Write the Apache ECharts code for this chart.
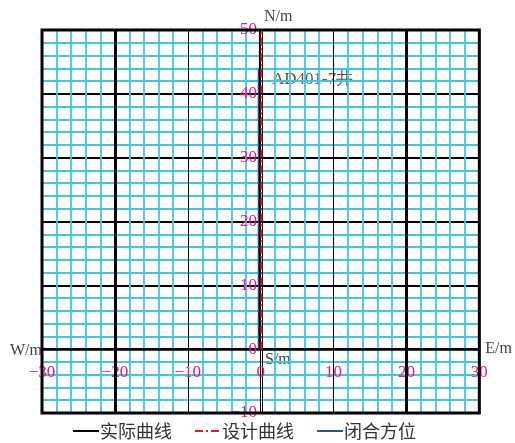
<!DOCTYPE html>
<html>
<head>
<meta charset="utf-8">
<script src="https://cdn.jsdelivr.net/npm/echarts@6/dist/echarts.min.js"></script>
<style>
  html, body { margin: 0; padding: 0; background: #fff; }
  #chart { width: 515px; height: 443px; }
</style>
</head>
<body>
<div id="chart"></div>
<script>
  // 井眼轨迹水平投影 (东西 / 南北, m)
  let legendNames = ['实际曲线', '设计曲线', '闭合方位']
  let actualE = [-0.1, -0.1, -0.1, -0.1, -0.1, -0.1]
  let actualN = [0, 10, 20, 30, 40, 50]
  let designE = [0.1, 0.1, 0.1, 0.1, 0.1, 0.1]
  let designN = [0, 10, 20, 30, 40, 50]
  let closeE = [-0.2, -0.2]
  let closeN = [0, 44]
  let wellName = 'AD401-7井'

  const pink = '#F0148C'
  const cyan = '#40C4EC'
  const serif = '"Liberation Serif", "DejaVu Serif", serif'

  // 绘图区
  const gridLeft = 42, gridRight = 33, gridTop = 30, gridBottom = 30
  const plotW = 515 - gridLeft - gridRight
  const plotH = 443 - gridTop - gridBottom

  function pairs(xs, ys) {
    return xs.map((x, i) => [x, ys[i]])
  }
  // 负号用长减号
  function minusFmt(v) {
    return String(v).replace('-', '\u2212')
  }

  let chart = echarts.init(document.getElementById('chart'))
  chart.setOption({
    animation: false,
    grid: {
      left: gridLeft,
      right: gridRight,
      top: gridTop,
      bottom: gridBottom,
      show: true,
      borderColor: '#000',
      borderWidth: 3,
      z: 10
    },
    legend: {
      bottom: -2,
      left: 67,
      itemWidth: 26,
      itemHeight: 12,
      itemGap: 22,
      itemStyle: { opacity: 0 },
      textStyle: {
        color: '#333',
        fontSize: 18,
        fontFamily: '"Noto Sans CJK SC"',
        padding: [0, 0, 0, -4]
      },
      data: legendNames
    },
    xAxis: {
      type: 'value',
      min: -30,
      max: 30,
      interval: 10,
      position: 'bottom',
      offset: -plotH * 10 / 60,
      name: 'E/m',
      nameLocation: 'end',
      nameGap: 6,
      nameTextStyle: { color: '#444', fontSize: 16, fontFamily: serif },
      axisLine: { show: true, onZero: false, lineStyle: { color: '#000', width: 2.5 } },
      axisTick: { show: false },
      axisLabel: { color: pink, fontSize: 17, fontFamily: serif, margin: 15, formatter: minusFmt },
      splitLine: { show: true, lineStyle: { color: '#000', width: 1 } },
      minorTick: { show: false, splitNumber: 5 },
      minorSplitLine: { show: true, lineStyle: { color: cyan, width: 1.8 } }
    },
    yAxis: {
      type: 'value',
      min: -10,
      max: 50,
      interval: 10,
      position: 'left',
      offset: -plotW * 30 / 60,
      name: 'N/m',
      nameLocation: 'end',
      nameGap: 5,
      nameTextStyle: { color: '#444', fontSize: 16, fontFamily: serif, align: 'left', padding: [0, 0, 0, 2] },
      axisLine: { show: true, onZero: false, lineStyle: { color: '#000', width: 1 } },
      axisTick: { show: false },
      axisLabel: { color: pink, fontSize: 17, fontFamily: serif, margin: 5, formatter: minusFmt },
      splitLine: { show: true, lineStyle: { color: '#000', width: 2 } },
      minorTick: { show: false, splitNumber: 5 },
      minorSplitLine: { show: true, lineStyle: { color: cyan, width: 1.8 } }
    },
    graphic: [
      {
        type: 'text',
        left: 10,
        top: 343,
        style: { text: 'W/m', fill: '#444', font: '16px ' + serif }
      },
      {
        type: 'text',
        left: 265,
        top: 352,
        style: { text: 'S/m', fill: '#444', font: '16px ' + serif }
      },
      {
        type: 'text',
        left: 272,
        top: 71,
        style: { text: wellName, fill: '#555', font: '17px ' + serif }
      }
    ],
    series: [
      {
        // 粗分隔线 ±20
        type: 'line',
        data: [],
        silent: true,
        markLine: {
          silent: true,
          symbol: 'none',
          label: { show: false },
          lineStyle: { color: '#000', width: 3, type: 'solid' },
          data: [{ xAxis: -20 }, { xAxis: 20 }]
        }
      },
      {
        name: legendNames[2],
        type: 'line',
        showSymbol: false,
        symbol: 'none',
        z: 3,
        lineStyle: { color: '#2456A4', width: 3 },
        itemStyle: { color: '#2456A4' },
        data: pairs(closeE, closeN)
      },
      {
        name: legendNames[0],
        type: 'line',
        showSymbol: false,
        symbol: 'none',
        z: 4,
        lineStyle: { color: '#000', width: 2 },
        itemStyle: { color: '#000' },
        data: pairs(actualE, actualN)
      },
      {
        name: legendNames[1],
        type: 'line',
        showSymbol: false,
        symbol: 'none',
        z: 5,
        lineStyle: { color: '#F01818', width: 2, type: [8, 3, 2, 3] },
        itemStyle: { color: '#F01818' },
        data: pairs(designE, designN)
      }
    ]
  })
</script>
</body>
</html>
